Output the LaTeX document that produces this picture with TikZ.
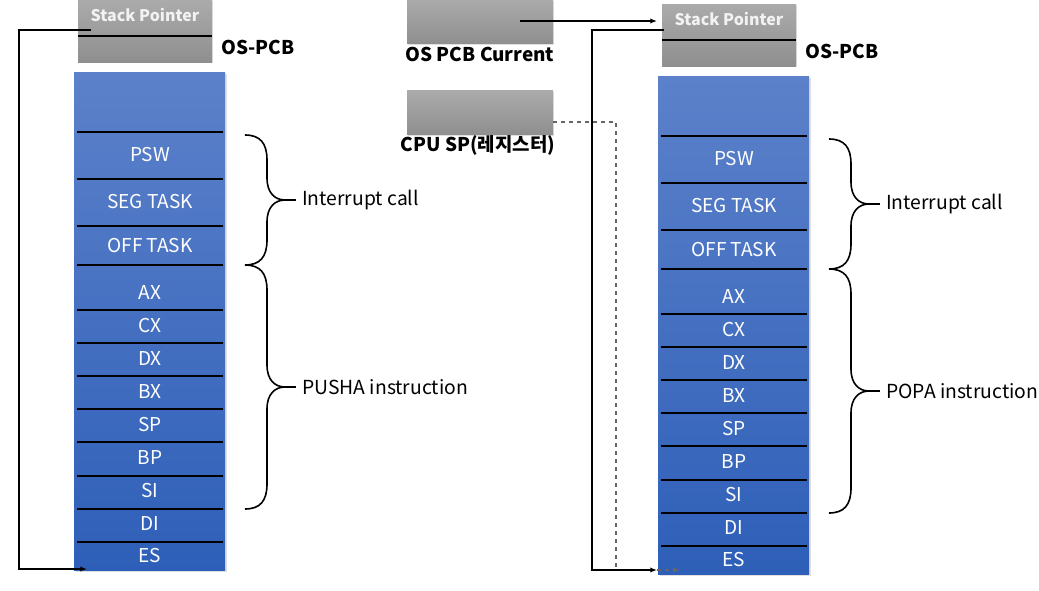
\documentclass[tikz,border=0pt]{standalone}
\usepackage{fontspec}
\setmainfont{Noto Sans CJK KR}
\usetikzlibrary{arrows.meta,shadows}

% curly brace: x, top y, half height, node name, label
\newcommand{\curly}[5]{%
  \begin{scope}[shift={(#1,#2)}]
    \draw[curlyline] (0,0) .. controls (15,0) and (22,8) .. (22,25)
      -- (22,#3-22) .. controls (22,#3-7) and (30,#3) .. (40,#3)
      .. controls (30,#3) and (22,#3+7) .. (22,#3+22)
      -- (22,2*#3-25) .. controls (22,2*#3-8) and (15,2*#3) .. (0,2*#3);
    \draw[curlyline] (40,#3) -- (51,#3);
    \node[note, anchor=west] (#4) at (57,#3) {#5};
  \end{scope}}

\begin{document}
\begin{tikzpicture}[
    x=0.75pt, y=-0.75pt,
    pcbbox/.style={rectangle, minimum width=100.5pt, minimum height=46.5pt, inner sep=0pt,
      top color=black!33, bottom color=black!44, draw=none,
      drop shadow={shadow xshift=1pt, shadow yshift=-1pt, opacity=0.25}},
    regbox/.style={rectangle, minimum width=109.5pt, minimum height=33.5pt, inner sep=0pt,
      top color=black!33, bottom color=black!44, draw=none,
      drop shadow={shadow xshift=1pt, shadow yshift=-1pt, opacity=0.25}},
    stackbox/.style={rectangle, minimum width=113.25pt, minimum height=373.5pt, inner sep=0pt,
      top color={rgb,255:red,92;green,129;blue,202}, bottom color={rgb,255:red,46;green,95;blue,184},
      draw=none, drop shadow={shadow xshift=1.2pt, shadow yshift=-1.2pt, opacity=0.25}},
    cell/.style={text=white, font=\fontsize{14.3}{16}\selectfont, inner sep=0pt},
    title/.style={font=\fontsize{14.2}{16}\selectfont\bfseries, inner sep=0pt},
    sptext/.style={text=black!5, font=\fontsize{12}{14}\selectfont\bfseries, inner sep=0pt},
    note/.style={font=\fontsize{14.5}{16}\selectfont, inner sep=0pt},
    rule/.style={line width=1.5pt},
    curlyline/.style={line width=1.2pt},
    link/.style={line width=1.1pt, -{Latex[length=5pt,width=4pt]}}
]
\useasboundingbox (0,0) rectangle (1039,590);

% the two stacks with their OS-PCB
\foreach \s/\dx/\dy in {L/0/0, R/584/4}{
  \begin{scope}[shift={(\dx,\dy)}]
    \node[stackbox] (stack\s) at (149.5,321) {};
    \node[pcbbox] (pcb\s) at (145,31) {};
    \draw[rule] (78,36) -- (212,36);
    \node[sptext] (sp\s) at (145,15) {Stack Pointer};
    \node[title, anchor=west] (os\s) at (221,47) {OS-PCB};
    \foreach \y in {132,179,226,265,310,343,376,409,442,476,509,542}
      \draw[rule] (77,\y) -- (223,\y);
    \foreach \y/\t/\n in {155/PSW/psw, 202/SEG TASK/seg, 246/OFF TASK/off, 293/AX/ax,
        326/CX/cx, 359/DX/dx, 392/BX/bx, 425/SP/spr, 458/BP/bp, 491/SI/si, 524/DI/di, 556/ES/es}
      \node[cell] (\n\s) at (150,\y) {\t};
  \end{scope}
}

% OS PCB Current and CPU SP
\node[regbox] (cur) at (480,21.5) {};
\node[title] (curlabel) at (480,54) {OS PCB Current};
\node[regbox] (cpu) at (480,112.5) {};
\node[title] (cpulabel) at (478,145) {CPU SP(레지스터)};

% braces
\curly{245}{135}{65}{intL}{Interrupt call}
\curly{245}{265}{122}{pushL}{PUSHA instruction}
\curly{829}{139}{65}{intR}{Interrupt call}
\curly{829}{269}{122}{popR}{POPA instruction}

% pointers
\coordinate (spLout) at (91,30);
\coordinate (esLin) at (87,569);
\draw[link] (spLout) -- ++(-72,0) |- (esLin);

\coordinate (cpuOut) at (553,122);
\coordinate (esRdash) at (680,570);
\draw[link, dashed, draw=black!60] (cpuOut) -- ++(63,0) |- (esRdash);

\coordinate (spRout) at (664,30);
\coordinate (esRin) at (657,570);
\draw[link] (spRout) -- ++(-72,0) |- (esRin);

\coordinate (curOut) at (520,21);
\coordinate (spRin) at (657,21);
\draw[link] (curOut) -- (spRin);
\end{tikzpicture}
\end{document}
